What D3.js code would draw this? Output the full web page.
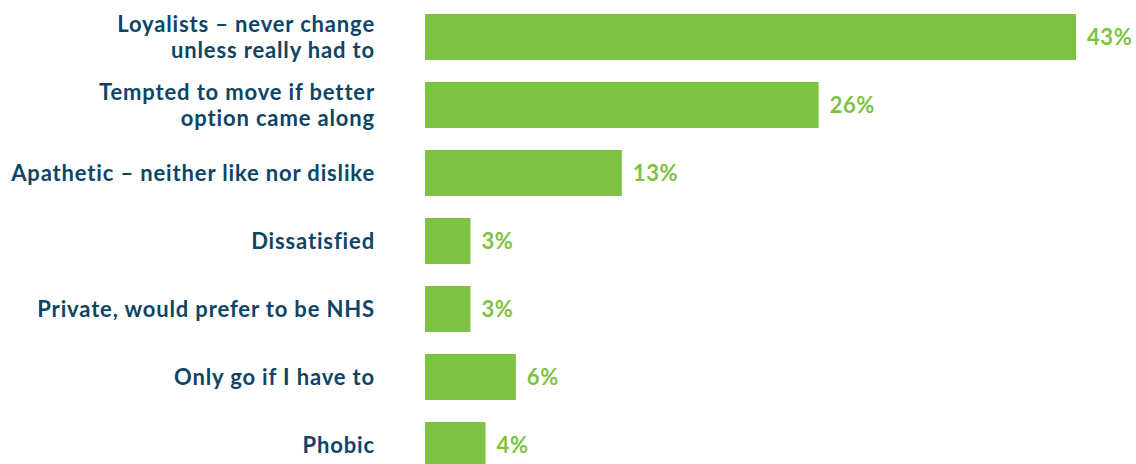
<!DOCTYPE html>
<html>
<head>
<meta charset="utf-8">
<script src="https://cdn.jsdelivr.net/npm/d3@7"></script>
<style>
  body { margin: 0; background: #fff; }
  text { font-family: Lato, "Open Sans", sans-serif; font-weight: 700; }
</style>
</head>
<body>
<svg id="chart" width="1136" height="464"></svg>
<script>
const categories = [
  ["Loyalists – never change", "unless really had to"],
  ["Tempted to move if better", "option came along"],
  ["Apathetic – neither like nor dislike"],
  ["Dissatisfied"],
  ["Private, would prefer to be NHS"],
  ["Only go if I have to"],
  ["Phobic"],
];
const values = [43, 26, 13, 3, 3, 6, 4];

const COLORS = {
  bar: "#7dc242",
  label: "#0e4566",
};

const svg = d3.select("#chart");
const barLeft = 425;
const labelRight = 375;

const x = d3.scaleLinear().domain([0, 43]).range([barLeft, 1076]);
const y = d3
  .scaleBand()
  .domain(d3.range(values.length))
  .range([14 - 11, 14 - 11 + 68 * values.length])
  .paddingInner(22 / 68)
  .paddingOuter(11 / 68);

svg
  .selectAll("rect")
  .data(values)
  .join("rect")
  .attr("x", x(0))
  .attr("y", (d, i) => y(i))
  .attr("width", (d) => x(d) - x(0))
  .attr("height", y.bandwidth())
  .attr("fill", COLORS.bar);

svg
  .selectAll("text.value")
  .data(values)
  .join("text")
  .attr("class", "value")
  .attr("x", (d) => x(d) + 11)
  .attr("y", (d, i) => y(i) + y.bandwidth() / 2 + 8)
  .attr("fill", COLORS.bar)
  .style("font-size", "22px")
  .style("letter-spacing", "0.6px")
  .text((d) => d + "%");

const lineGap = 26;
const labels = svg
  .selectAll("text.cat")
  .data(categories)
  .join("text")
  .attr("class", "cat")
  .attr("text-anchor", "end")
  .attr("fill", COLORS.label)
  .style("font-size", "22px")
  .style("letter-spacing", "0.85px");

labels.each(function (lines, i) {
  const mid = y(i) + y.bandwidth() / 2;
  const first = mid + 7.5 - ((lines.length - 1) * lineGap) / 2;
  d3.select(this)
    .selectAll("tspan")
    .data(lines)
    .join("tspan")
    .attr("x", labelRight)
    .attr("y", (d, j) => first + j * lineGap)
    .text((d) => d);
});
</script>
</body>
</html>
